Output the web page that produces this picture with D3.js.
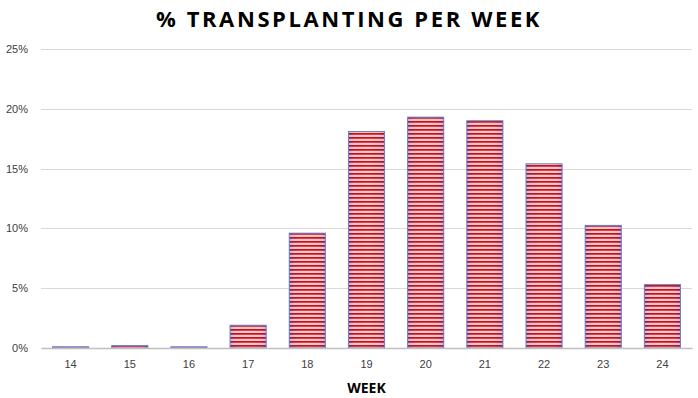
<!DOCTYPE html>
<html>
<head>
<meta charset="utf-8">
<script src="https://cdn.jsdelivr.net/npm/d3@7"></script>
<style>
  body { margin: 0; background: #fff; }
  svg { display: block; font-family: "Open Sans", "Liberation Sans", sans-serif; }
  .tick text { fill: #404040; font-size: 11px; }
</style>
</head>
<body>
<div id="chart"></div>
<script>
// data
const weeks = ["14", "15", "16", "17", "18", "19", "20", "21", "22", "23", "24"];
const pctValues = [0.1, 0.2, 0.1, 1.9, 9.6, 18.1, 19.3, 19.0, 15.4, 10.25, 5.3];
const yTicks = [0, 5, 10, 15, 20, 25];

const W = 698, H = 398;
const margin = { top: 49, right: 6, bottom: 50, left: 41 };
const width = W - margin.left - margin.right;
const height = H - margin.top - margin.bottom;

const svg = d3.select("#chart").append("svg")
    .attr("width", W)
    .attr("height", H);

// striped fill for bars: blue edges fading to salmon, with white + red lines
const defs = svg.append("defs");
const grad = defs.append("linearGradient")
    .attr("id", "barGrad")
    .attr("x1", "0%").attr("x2", "100%").attr("y1", "0%").attr("y2", "0%");
grad.append("stop").attr("offset", "0%").attr("stop-color", "#7c86cc");
grad.append("stop").attr("offset", "18%").attr("stop-color", "#e3949f");
grad.append("stop").attr("offset", "50%").attr("stop-color", "#f29a9a");
grad.append("stop").attr("offset", "82%").attr("stop-color", "#e3949f");
grad.append("stop").attr("offset", "100%").attr("stop-color", "#7c86cc");

const pat = defs.append("pattern")
    .attr("id", "stripes")
    .attr("patternUnits", "userSpaceOnUse")
    .attr("width", 8).attr("height", 4);
pat.append("rect").attr("x", 0).attr("y", 0).attr("width", 8).attr("height", 1.6)
    .attr("fill", "#c8000c").attr("opacity", 0.9);
pat.append("rect").attr("x", 0).attr("y", 2.5).attr("width", 8).attr("height", 1)
    .attr("fill", "#ffffff").attr("opacity", 0.95);

const g = svg.append("g")
    .attr("transform", `translate(${margin.left},${margin.top})`);

const x = d3.scaleBand()
    .domain(weeks)
    .range([0, width])
    .paddingInner(0.39)
    .paddingOuter(0.195);

const y = d3.scaleLinear()
    .domain([0, 25])
    .range([height, 0]);

// gridlines
g.append("g")
    .selectAll("line")
    .data(yTicks.filter(d => d > 0))
    .enter()
    .append("line")
    .attr("x1", 0).attr("x2", width)
    .attr("y1", d => Math.round(y(d)) + 0.5)
    .attr("y2", d => Math.round(y(d)) + 0.5)
    .attr("stroke", "#d9d9d9")
    .attr("stroke-width", 1);

// y axis (labels only)
const yAxis = g.append("g")
    .call(d3.axisLeft(y).tickValues(yTicks).tickSize(0).tickPadding(13).tickFormat(d => d + "%"));
yAxis.select(".domain").remove();

// bars
const data = weeks.map((w, i) => ({ week: w, pct: pctValues[i] }));

const bars = g.selectAll(".bar")
    .data(data)
    .enter()
    .append("g")
    .attr("class", "bar");

bars.append("rect")
    .attr("x", d => x(d.week))
    .attr("y", d => y(d.pct))
    .attr("width", x.bandwidth())
    .attr("height", d => height - y(d.pct))
    .attr("fill", "url(#barGrad)");

bars.append("rect")
    .attr("x", d => x(d.week))
    .attr("y", d => y(d.pct))
    .attr("width", x.bandwidth())
    .attr("height", d => height - y(d.pct))
    .attr("fill", "url(#stripes)")
    .attr("stroke", "#6f7cc4")
    .attr("stroke-width", 1);

// x axis
const xAxis = g.append("g")
    .attr("transform", `translate(0,${height})`)
    .call(d3.axisBottom(x).tickSize(0).tickPadding(12));
xAxis.select(".domain")
    .attr("stroke", "#bfbfbf")
    .attr("stroke-width", 1.5);

// title
svg.append("text")
    .attr("x", W / 2)
    .attr("y", 27)
    .attr("text-anchor", "middle")
    .style("font-size", "22px")
    .style("font-weight", "bold")
    .style("letter-spacing", "2.6px")
    .style("fill", "#000")
    .text("% TRANSPLANTING PER WEEK");

// axis label
svg.append("text")
    .attr("x", margin.left + width / 2)
    .attr("y", 393)
    .attr("text-anchor", "middle")
    .style("font-size", "14px")
    .style("font-weight", "bold")
    .style("fill", "#000")
    .text("WEEK");
</script>
</body>
</html>
